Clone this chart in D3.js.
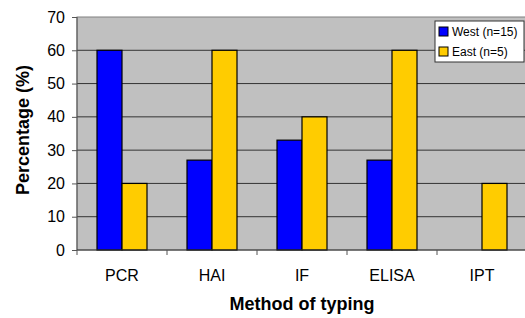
<!DOCTYPE html>
<html>
<head>
<meta charset="utf-8">
<script src="https://cdn.jsdelivr.net/npm/d3@7"></script>
<style>
  body { margin: 0; background: #fff; }
  text { font-family: "Liberation Sans", Arial, sans-serif; }
</style>
</head>
<body>
<div id="chart"></div>
<script>
    const methods = ["PCR", "HAI", "IF", "ELISA", "IPT"]
    const seriesNames = ["West (n=15)", "East (n=5)"]
    const west = [60, 27, 33, 27, 0]
    const east = [20, 60, 40, 60, 20]
    const yTicks = [0, 10, 20, 30, 40, 50, 60, 70]
    const colors = ["#0000ff", "#ffcc00"]

    const W = 525, H = 318
    const plotLeft = 77, plotTop = 17, plotRight = 527, plotBottom = 250

    let svg = d3.select("#chart").append("svg")
        .attr("width", W)
        .attr("height", H)

    let x = d3.scaleBand() // one band per method
        .domain(methods)
        .range([plotLeft, plotRight])

    let inner = d3.scaleBand() // west / east inside a band
        .domain([0, 1])
        .range([0, x.bandwidth()])
        .paddingOuter(0.8)

    let y = d3.scaleLinear()
        .domain([0, 70])
        .range([plotBottom, plotTop])

    // plot background
    svg.append("rect")
        .attr("x", plotLeft).attr("y", plotTop)
        .attr("width", plotRight - plotLeft).attr("height", plotBottom - plotTop)
        .attr("fill", "#c0c0c0")
        .attr("stroke", "#808080")

    // gridlines
    svg.append("g").selectAll("line").data(yTicks.slice(1, -1)).enter()
        .append("line")
        .attr("x1", plotLeft).attr("x2", plotRight)
        .attr("y1", d => y(d)).attr("y2", d => y(d))
        .attr("stroke", "#333")
        .attr("stroke-width", 1)

    // bars
    let data = []
    methods.forEach((m, i) => {
        data.push({ m: m, s: 0, v: west[i] })
        data.push({ m: m, s: 1, v: east[i] })
    })
    svg.append("g").selectAll("rect").data(data.filter(d => d.v > 0)).enter()
        .append("rect")
        .attr("x", d => x(d.m) + inner(d.s))
        .attr("y", d => y(d.v))
        .attr("width", inner.bandwidth())
        .attr("height", d => y(0) - y(d.v))
        .attr("fill", d => colors[d.s])
        .attr("stroke", "#000")
        .attr("stroke-width", 1.2)

    // y axis
    let yAxis = svg.append("g")
        .attr("transform", "translate(" + plotLeft + ",0)")
        .call(d3.axisLeft(y).tickValues(yTicks).tickSize(5).tickPadding(7))
    yAxis.selectAll("text").attr("font-size", 16).attr("fill", "#000")
    yAxis.selectAll("line, path").attr("stroke", "#555")
    yAxis.select(".domain").attr("d", "M0," + plotTop + "V" + plotBottom)

    // x axis
    let xAxis = svg.append("g")
        .attr("transform", "translate(0," + plotBottom + ")")
    xAxis.append("line")
        .attr("x1", plotLeft).attr("x2", plotRight)
        .attr("stroke", "#333")
    xAxis.selectAll(".tk").data(methods).enter()
        .append("line")
        .attr("x1", d => x(d)).attr("x2", d => x(d))
        .attr("y1", 0).attr("y2", 5)
        .attr("stroke", "#555")
    xAxis.selectAll("text").data(methods).enter()
        .append("text")
        .attr("x", d => x(d) + x.bandwidth() / 2)
        .attr("y", 31)
        .attr("text-anchor", "middle")
        .attr("font-size", 16)
        .text(d => d)

    // axis titles
    svg.append("text")
        .attr("x", 302).attr("y", 310)
        .attr("text-anchor", "middle")
        .attr("font-size", 18)
        .attr("font-weight", "bold")
        .text("Method of typing")

    svg.append("text")
        .attr("transform", "translate(29,130) rotate(-90)")
        .attr("text-anchor", "middle")
        .attr("font-size", 18)
        .attr("font-weight", "bold")
        .text("Percentage (%)")

    // legend
    let legend = svg.append("g").attr("transform", "translate(435,21)")
    legend.append("rect")
        .attr("width", 89).attr("height", 41)
        .attr("fill", "#fff")
        .attr("stroke", "#333")
    seriesNames.forEach((s, i) => {
        legend.append("rect")
            .attr("x", 4).attr("y", 6 + i * 20)
            .attr("width", 9).attr("height", 9)
            .attr("fill", colors[i])
            .attr("stroke", "#000")
        legend.append("text")
            .attr("x", 17).attr("y", 15 + i * 20)
            .attr("font-size", 12)
            .text(s)
    })
</script>
</body>
</html>
